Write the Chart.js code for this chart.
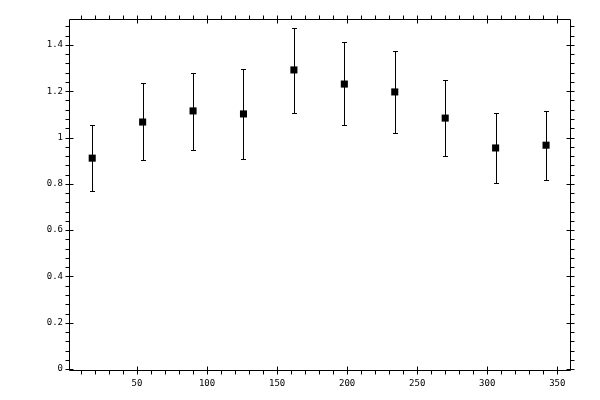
<!DOCTYPE html>
<html>
<head>
<meta charset="utf-8">
<script src="https://cdn.jsdelivr.net/npm/chart.js@4"></script>
<style>
html,body{margin:0;padding:0;background:#fff;}
#wrap{width:600px;height:400px;}
</style>
</head>
<body>
<div id="wrap"><canvas id="c" width="600" height="400"></canvas></div>
<script>
const xValues = [18, 54, 90, 126, 162, 198, 234, 270, 306, 342];
const yValues = [0.911, 1.067, 1.115, 1.102, 1.292, 1.231, 1.197, 1.084, 0.955, 0.967];
const yLow    = [0.769, 0.903, 0.946, 0.907, 1.106, 1.054, 1.019, 0.920, 0.803, 0.816];
const yHigh   = [1.054, 1.236, 1.279, 1.296, 1.474, 1.413, 1.374, 1.249, 1.106, 1.116];
const xMajorTicks = [50, 100, 150, 200, 250, 300, 350];
const xMinorTicks = [10,20,30,40,60,70,80,90,110,120,130,140,160,170,180,190,210,220,230,240,260,270,280,290,310,320,330,340];
const yMajorTicks = [0, 0.2, 0.4, 0.6, 0.8, 1, 1.2, 1.4];
const yMinorTicks = [0.04,0.08,0.12,0.16,0.24,0.28,0.32,0.36,0.44,0.48,0.52,0.56,0.64,0.68,0.72,0.76,0.84,0.88,0.92,0.96,1.04,1.08,1.12,1.16,1.24,1.28,1.32,1.36,1.44,1.48];

const points = xValues.map((x, i) => ({x: x, y: yValues[i]}));

const framePlugin = {
  id: 'frame',
  beforeDraw(chart) {
    const ctx = chart.ctx;
    ctx.save();
    ctx.fillStyle = '#fff';
    ctx.fillRect(0, 0, chart.width, chart.height);
    ctx.restore();
  },
  beforeDatasetsDraw(chart) {
    const ctx = chart.ctx;
    const xs = chart.scales.x, ys = chart.scales.y;
    const a = chart.chartArea;
    const L = Math.round(a.left) + 0.5, R = Math.round(a.right) + 0.5;
    const T = Math.round(a.top) + 0.5, B = Math.round(a.bottom) + 0.5;
    ctx.save();
    ctx.strokeStyle = '#000';
    ctx.lineWidth = 1;
    ctx.beginPath();
    ctx.rect(L, T, R - L, B - T);
    // x ticks
    xMinorTicks.forEach(v => {
      const p = Math.round(xs.getPixelForValue(v)) + 0.5;
      ctx.moveTo(p, B); ctx.lineTo(p, B + 4);
      ctx.moveTo(p, T); ctx.lineTo(p, T - 4);
    });
    xMajorTicks.forEach(v => {
      const p = Math.round(xs.getPixelForValue(v)) + 0.5;
      ctx.moveTo(p, B - 4); ctx.lineTo(p, B + 4);
      ctx.moveTo(p, T + 4); ctx.lineTo(p, T - 4);
    });
    yMinorTicks.forEach(v => {
      const p = Math.round(ys.getPixelForValue(v)) + 0.5;
      ctx.moveTo(L, p); ctx.lineTo(L - 4, p);
      ctx.moveTo(R, p); ctx.lineTo(R + 4, p);
    });
    yMajorTicks.forEach(v => {
      const p = Math.round(ys.getPixelForValue(v)) + 0.5;
      ctx.moveTo(L + 4, p); ctx.lineTo(L - 4, p);
      ctx.moveTo(R - 4, p); ctx.lineTo(R + 4, p);
    });
    ctx.stroke();
    // error bars
    ctx.beginPath();
    xValues.forEach((x, i) => {
      const px = Math.round(xs.getPixelForValue(x)) + 0.5;
      const lo = Math.round(ys.getPixelForValue(yLow[i])) + 0.5;
      const hi = Math.round(ys.getPixelForValue(yHigh[i])) + 0.5;
      ctx.moveTo(px, lo); ctx.lineTo(px, hi);
      ctx.moveTo(px - 2.5, lo); ctx.lineTo(px + 2.5, lo);
      ctx.moveTo(px - 2.5, hi); ctx.lineTo(px + 2.5, hi);
    });
    ctx.stroke();
    ctx.restore();
  }
};

const tickFont = {family: 'DejaVu Sans Mono', size: 9};

new Chart(document.getElementById('c'), {
  type: 'scatter',
  data: {
    datasets: [{
      data: points,
      pointStyle: 'rect',
      pointRadius: 5,
      pointHoverRadius: 5,
      backgroundColor: '#000',
      borderColor: '#000',
      borderWidth: 0
    }]
  },
  options: {
    responsive: false,
    animation: false,
    events: [],
    layout: {padding: {top: 19, right: 30, bottom: 0, left: 0}},
    plugins: {legend: {display: false}, tooltip: {enabled: false}},
    scales: {
      x: {
        type: 'linear',
        min: 1.43,
        max: 359.1,
        afterFit(s) { s.height = 30; },
        afterBuildTicks(s) { s.ticks = xMajorTicks.map(v => ({value: v})); },
        grid: {display: false, drawTicks: false},
        border: {display: false},
        ticks: {font: tickFont, color: '#000', padding: 8, maxRotation: 0, autoSkip: false,
                callback: v => String(v)}
      },
      y: {
        type: 'linear',
        min: -0.004,
        max: 1.512,
        afterFit(s) { s.width = 69; },
        afterBuildTicks(s) { s.ticks = yMajorTicks.map(v => ({value: v})); },
        grid: {display: false, drawTicks: false},
        border: {display: false},
        ticks: {font: tickFont, color: '#000', padding: 6, autoSkip: false,
                callback: v => String(Math.round(v * 10) / 10)}
      }
    }
  },
  plugins: [framePlugin]
});
</script>
</body>
</html>
